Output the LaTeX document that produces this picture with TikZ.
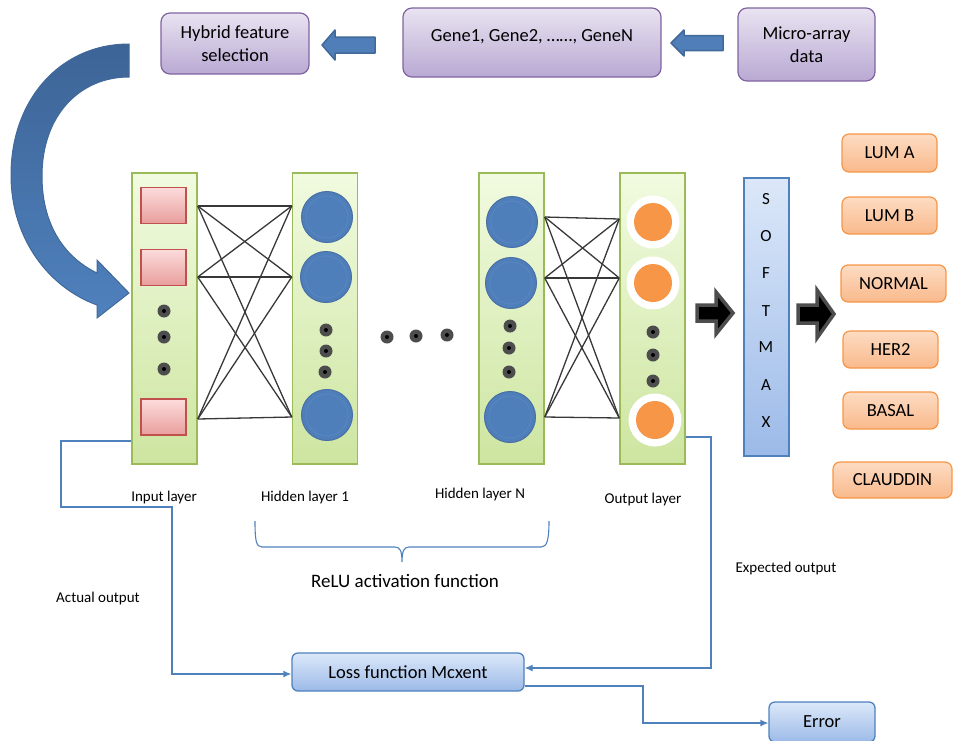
\documentclass[tikz,border=0pt]{standalone}
\usepackage{fontspec}
\setmainfont{Carlito}
\usetikzlibrary{arrows.meta}
\definecolor{pbord}{HTML}{8064A2}
\definecolor{ptop}{HTML}{E9E3F1}
\definecolor{pbot}{HTML}{B9A9D3}
\definecolor{lgreen}{HTML}{9BBB59}
\definecolor{ltop}{HTML}{F1FBE0}
\definecolor{lbot}{HTML}{CDE5A0}
\definecolor{rbord}{HTML}{C0504D}
\definecolor{rtop}{HTML}{FDDCDC}
\definecolor{rbot}{HTML}{E79E9C}
\definecolor{nblue}{HTML}{4F7FBA}
\definecolor{nbord}{HTML}{4A6FA5}
\definecolor{ringc}{HTML}{5A86BF}
\definecolor{orange1}{HTML}{F79646}
\definecolor{dgrey}{HTML}{4D4D4D}
\definecolor{wgrey}{HTML}{383838}
\definecolor{obord}{HTML}{F79646}
\definecolor{otop}{HTML}{FDDCC3}
\definecolor{obot}{HTML}{F9B98B}
\definecolor{lblue}{HTML}{4F81BD}
\definecolor{stop}{HTML}{DCE8F9}
\definecolor{sbot}{HTML}{9CBAE8}
\definecolor{arrblue}{HTML}{4F7EB9}
\definecolor{arrbord}{HTML}{41699A}
\definecolor{bigtop}{HTML}{3D6496}
\definecolor{bigbot}{HTML}{4F81BD}
\begin{document}
\begin{tikzpicture}[x=1pt,y=-1pt,
  purplebox/.style={draw=pbord, line width=1.2pt, rounded corners=9pt, top color=ptop, bottom color=pbot, align=center, font=\fontsize{18.5}{23.5}\selectfont, inner sep=0pt},
  layerbox/.style={draw=lgreen, line width=1.5pt, top color=ltop, bottom color=lbot, inner sep=0pt, minimum width=65pt, minimum height=291pt},
  insq/.style={draw=rbord, line width=1.2pt, top color=rtop, bottom color=rbot, minimum width=45pt, minimum height=36pt, inner sep=0pt},
  hcirc/.style={circle, fill=nblue, draw=nbord, line width=1pt, minimum size=51pt, inner sep=0pt,
     path picture={\draw[ringc, line width=0.8pt] (path picture bounding box.center) circle (21pt);}},
  ocirc/.style={circle, fill=white, minimum size=53pt, inner sep=0pt,
     path picture={\fill[orange1] (path picture bounding box.center) circle (19pt);}},
  dotn/.style={circle, fill=dgrey, minimum size=13pt, inner sep=0pt,
     path picture={\fill[black] (path picture bounding box.center) circle (2pt);}},
  classbox/.style={draw=obord, line width=1.2pt, rounded corners=7pt, top color=otop, bottom color=obot, font=\fontsize{18.5}{22}\selectfont, inner sep=0pt},
  bluebox/.style={draw=lblue, line width=1.3pt, rounded corners=6pt, top color=stop, bottom color=sbot, font=\fontsize{18.5}{22}\selectfont, inner sep=0pt},
  wire/.style={draw=wgrey, line width=1.3pt},
  bline/.style={draw=lblue, line width=1.3pt},
  btip/.style={-{Latex[length=8pt,width=7pt]}},
  lbl/.style={font=\fontsize{15}{18}\selectfont, inner sep=0pt},
  smxl/.style={font=\fontsize{17}{20}\selectfont, inner sep=0pt},
  blkarrow/.style={fill=black, draw=dgrey, line width=3.5pt, line join=miter},
  bluearrow/.style={fill=arrblue, draw=arrbord, line width=1.5pt, line join=round}
]
\useasboundingbox (0,0) rectangle (953,740);

% top boxes
\node[purplebox, minimum width=148pt, minimum height=61pt] (hyb) at (235,43.5) {Hybrid feature\\selection};
\node[purplebox, minimum width=258pt, minimum height=69pt] (gene) at (532,42.5) {};
\node[font=\fontsize{18.5}{22}\selectfont, inner sep=0pt] (genet) at (532,37) {Gene1, Gene2, ……, GeneN};
\node[purplebox, minimum width=137pt, minimum height=73pt] (micro) at (806.5,44.5) {Micro-array\\data};

% top blue arrows
\filldraw[bluearrow] (322,45) -- (335,30) -- (335,37) -- (375,37) -- (375,53) -- (335,53) -- (335,60) -- cycle;
\filldraw[bluearrow] (671,43) -- (684,30) -- (684,35.5) -- (723,35.5) -- (723,50.5) -- (684,50.5) -- (684,56) -- cycle;

% big curved arrow
\shade[top color=bigtop, bottom color=bigbot, draw=arrbord, line width=1pt]
  (129,44) .. controls (60,44) and (11,100) .. (11,175)
  .. controls (11,240) and (50,288) .. (97,305)
  -- (97,318) -- (129,293) -- (97,260) -- (97,273)
  .. controls (62,256) and (42,222) .. (42,176)
  .. controls (42,115) and (80,77) .. (129,77) -- cycle;

% layers
\node[layerbox] (inl) at (164.5,318.5) {};
\node[layerbox] (h1l) at (325,318.5) {};
\node[layerbox] (hnl) at (511.5,318.5) {};
\node[layerbox] (outl) at (652.5,318.5) {};

% wires
\foreach \a in {206,277,419}
  \foreach \b in {206,277,417}
    \draw[wire] (inl.east |- 0,\a) -- (h1l.west |- 0,\b);
\foreach \a in {217,278,417}
  \foreach \b in {219,278,418}
    \draw[wire] (hnl.east |- 0,\a) -- (outl.west |- 0,\b);

% input layer content
\node[insq] (sq1) at (163.5,205.5) {};
\node[insq] (sq2) at (163.5,267.5) {};
\node[insq] (sq3) at (163.5,417) {};
\node[dotn] (id1) at (164,311) {};
\node[dotn] (id2) at (164,337) {};
\node[dotn] (id3) at (164,369) {};

% hidden 1
\node[hcirc] (a1) at (327,217) {};
\node[hcirc] (a2) at (326,277) {};
\node[hcirc] (a3) at (327,415) {};
\node[dotn] (ad1) at (326,330) {};
\node[dotn] (ad2) at (326,351) {};
\node[dotn] (ad3) at (325,372) {};

% ellipsis between
\node[dotn] (e1) at (387,337) {};
\node[dotn] (e2) at (416,336) {};
\node[dotn] (e3) at (447,335) {};

% hidden N
\node[hcirc] (b1) at (512,222) {};
\node[hcirc] (b2) at (511,283) {};
\node[hcirc] (b3) at (510,417) {};
\node[dotn] (bd1) at (510,326) {};
\node[dotn] (bd2) at (509,348) {};
\node[dotn] (bd3) at (509,372) {};

% output
\node[ocirc] (c1) at (653,222) {};
\node[ocirc] (c2) at (653,283) {};
\node[ocirc] (c3) at (655,420) {};
\node[dotn] (cd1) at (653,332) {};
\node[dotn] (cd2) at (653,355) {};
\node[dotn] (cd3) at (653,381) {};

% black arrows
\filldraw[blkarrow] (697,305) -- (716,305) -- (716,292) -- (733,313) -- (716,334) -- (716,321) -- (697,321) -- cycle;
\filldraw[blkarrow] (798,305) -- (817,305) -- (817,290) -- (834,314) -- (817,338) -- (817,323) -- (798,323) -- cycle;

% softmax
\node[draw=lblue, line width=1.5pt, top color=stop, bottom color=sbot, minimum width=45pt, minimum height=278pt, inner sep=0pt] (smx) at (766.5,317) {};
\foreach \ch/\yy in {S/199, O/236, F/273, T/311, M/347, A/385, X/422}
  \node[smxl] (s\ch) at (766,\yy) {\ch};

% classes
\node[classbox, minimum width=95pt, minimum height=38pt] (lumA) at (889.5,153) {LUM A};
\node[classbox, minimum width=95pt, minimum height=37pt] (lumB) at (889.5,215.5) {LUM B};
\node[classbox, minimum width=105pt, minimum height=37pt] (norm) at (893.5,283.5) {NORMAL};
\node[classbox, minimum width=95pt, minimum height=37pt] (her) at (890.5,349.5) {HER2};
\node[classbox, minimum width=95pt, minimum height=37pt] (bas) at (890.5,410.5) {BASAL};
\node[classbox, minimum width=119pt, minimum height=36pt] (cla) at (892.5,480) {CLAUDDIN};

% layer labels
\node[lbl] (lin) at (164,497) {Input layer};
\node[lbl] (lh1) at (305,497) {Hidden layer 1};
\node[lbl] (lhn) at (480,494) {Hidden layer N};
\node[lbl] (lout) at (643,499) {Output layer};

% brace
\draw[lblue, line width=1.1pt] (255,521) .. controls (255,540) and (256,547) .. (262,547) -- (395,547)
  .. controls (400,547) and (402,551) .. (402,562)
  .. controls (402,551) and (404,547) .. (409,547) -- (541,547)
  .. controls (547,547) and (549,540) .. (549,521);
\node[font=\fontsize{19}{22}\selectfont, inner sep=0pt] (relu) at (405,581) {ReLU activation function};

\node[lbl] (act) at (98,598) {Actual output};
\node[lbl] (exp) at (786,568) {Expected output};

% loss and error
\node[bluebox, minimum width=232pt, minimum height=38pt] (loss) at (408,672) {Loss function Mcxent};
\node[bluebox, minimum width=106pt, minimum height=40pt] (err) at (822,722) {Error};

% blue connectors
\draw[bline, btip] (inl.west |- 0,441) -- (61,441) -- (61,507) -- (172,507) -- (172,674) -- (loss.west |- 0,674);
\draw[bline, btip] (outl.east |- 0,437) -- (711,437) -- (711,668) -- (loss.east |- 0,668);
\draw[bline, btip] (loss.east |- 0,686) -- (643,686) -- (643,723) -- (err.west |- 0,723);
\end{tikzpicture}
\end{document}
